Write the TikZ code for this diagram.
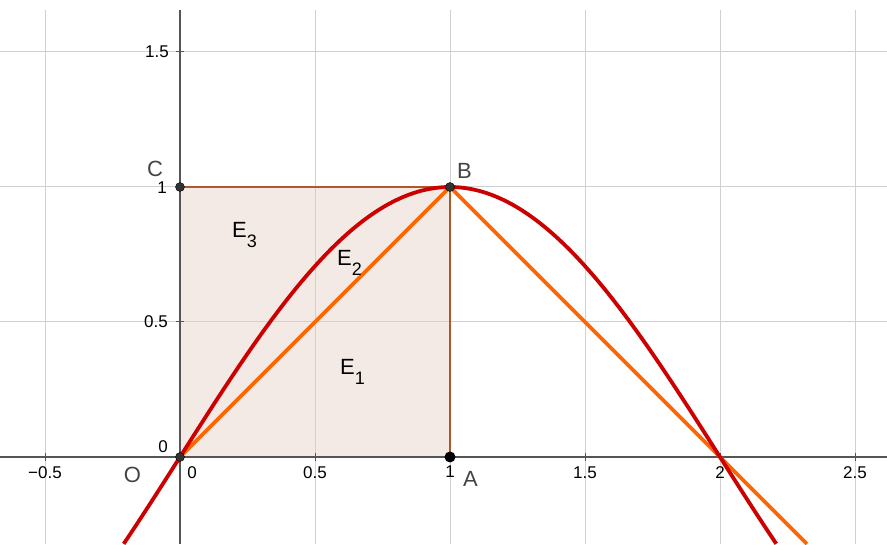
\documentclass[tikz,border=0pt]{standalone}
\usepackage{fontspec}
\setmainfont{Liberation Sans}
\definecolor{gridc}{HTML}{D0D0D0}
\definecolor{axisc}{HTML}{555555}
\definecolor{polyc}{HTML}{993300}
\definecolor{polyedge}{HTML}{B0582A}
\definecolor{curvec}{HTML}{CC0000}
\definecolor{linec}{HTML}{FF6600}
\definecolor{ptc}{HTML}{333333}
\definecolor{lblc}{HTML}{444444}
\tikzset{
  gridline/.style={gridc, line width=1pt},
  axisline/.style={axisc, line width=1.5pt},
  ticklbl/.style={font=\fontsize{17}{19}\selectfont, text=black, inner sep=0pt},
  ptlbl/.style={font=\fontsize{22}{24}\selectfont, text=lblc, inner sep=0pt},
  elbl/.style={font=\fontsize{22}{24}\selectfont, text=black, inner sep=0pt},
  ptdot/.style={circle, fill=ptc, draw=black, line width=0.4pt, inner sep=0pt, minimum size=9pt},
  ptdotA/.style={circle, fill=black, inner sep=0pt, minimum size=11pt},
  curvestyle/.style={curvec, line width=3.8pt},
  segstyle/.style={linec, line width=3.6pt},
}
\newcommand{\esub}[2]{#1\raisebox{-10pt}{\fontsize{18}{20}\selectfont #2}}
\begin{document}
\begin{tikzpicture}[x=1pt,y=1pt]
\useasboundingbox (0,0) rectangle (887,544);
\fill[white] (0,0) rectangle (887,544);
\begin{scope}[shift={(180,87)}, x=270pt, y=270pt]
  % named coordinates
  \coordinate (pO) at (0,0);
  \coordinate (pA) at (1,0);
  \coordinate (pB) at (1,1);
  \coordinate (pC) at (0,1);
  \coordinate (lineend) at (2.3222,-0.3222);
  % square fill
  \fill[polyc, fill opacity=0.1] (pO) -- (pA) -- (pB) -- (pC) -- cycle;
  % grid
  \foreach \gx in {-0.5,0.5,1,1.5,2,2.5}
    \draw[gridline] (\gx,-0.3222) -- (\gx,1.6556);
  \foreach \gy in {0.5,1,1.5}
    \draw[gridline] (-0.6667,\gy) -- (2.6185,\gy);
  % square border
  \draw[polyedge, line width=1.5pt] (pO) -- (pA) -- (pB) -- (pC) -- cycle;
  % axes
  \draw[axisline] (-0.6667,0) -- (2.6185,0);
  \draw[axisline] (0,-0.3222) -- (0,1.6556);
  \foreach \gx in {-0.5,0.5,1,1.5,2,2.5}
    \draw[axisc, line width=1pt] (\gx,0) ++(0,-4pt) -- ++(0,8pt);
  \foreach \gy in {0.5,1,1.5}
    \draw[axisc, line width=1pt] (0,\gy) ++(-4pt,0) -- ++(8pt,0);
  % tick labels
  \node[ticklbl] (tm05) at ([yshift=-16pt]-0.5,0) {−0.5};
  \node[ticklbl] (tx0) at ([xshift=12pt,yshift=-16pt]0,0) {0};
  \node[ticklbl] (tx05) at ([yshift=-16pt]0.5,0) {0.5};
  \node[ticklbl] (tx1) at ([yshift=-15pt]1,0) {1};
  \node[ticklbl] (tx15) at ([yshift=-16pt]1.5,0) {1.5};
  \node[ticklbl] (tx2) at ([yshift=-16pt]2,0) {2};
  \node[ticklbl] (tx25) at ([yshift=-16pt]2.5,0) {2.5};
  \node[ticklbl, anchor=east] (ty0) at ([xshift=-12pt,yshift=10pt]0,0) {0};
  \node[ticklbl, anchor=east] (ty05) at ([xshift=-12pt]0,0.5) {0.5};
  \node[ticklbl, anchor=east] (ty1) at ([xshift=-13pt,yshift=-1pt]0,1) {1};
  \node[ticklbl, anchor=east] (ty15) at ([xshift=-11pt]0,1.5) {1.5};
  % curve and segments
  \draw[segstyle] (pO) -- (pB);
  \draw[segstyle] (pB) -- (lineend);
  \draw[curvestyle, domain=-0.2085:2.2085, samples=120, smooth] plot (\x,{sin(90*\x)});
  % points
  \node[ptdot] (O) at (pO) {};
  \node[ptdot] (B) at (pB) {};
  \node[ptdot] (C) at (pC) {};
  \node[ptdotA] (A) at (pA) {};
  % point labels
  \node[ptlbl] (lO) at ([xshift=-47.5pt,yshift=-18pt]pO) {O};
  \node[ptlbl] (lA) at ([xshift=20.5pt,yshift=-21.5pt]pA) {A};
  \node[ptlbl] (lB) at ([xshift=14.5pt,yshift=16.5pt]pB) {B};
  \node[ptlbl] (lC) at ([xshift=-25pt,yshift=18.5pt]pC) {C};
  % region labels
  \node[elbl, anchor=base west] (E3) at ([xshift=52pt,yshift=-51pt]pC) {\esub{E}{3}};
  \node[elbl, anchor=base west] (E2) at ([xshift=157pt,yshift=-79pt]pC) {\esub{E}{2}};
  \node[elbl, anchor=base west] (E1) at ([xshift=160pt,yshift=82pt]pO) {\esub{E}{1}};
\end{scope}
\end{tikzpicture}
\end{document}
